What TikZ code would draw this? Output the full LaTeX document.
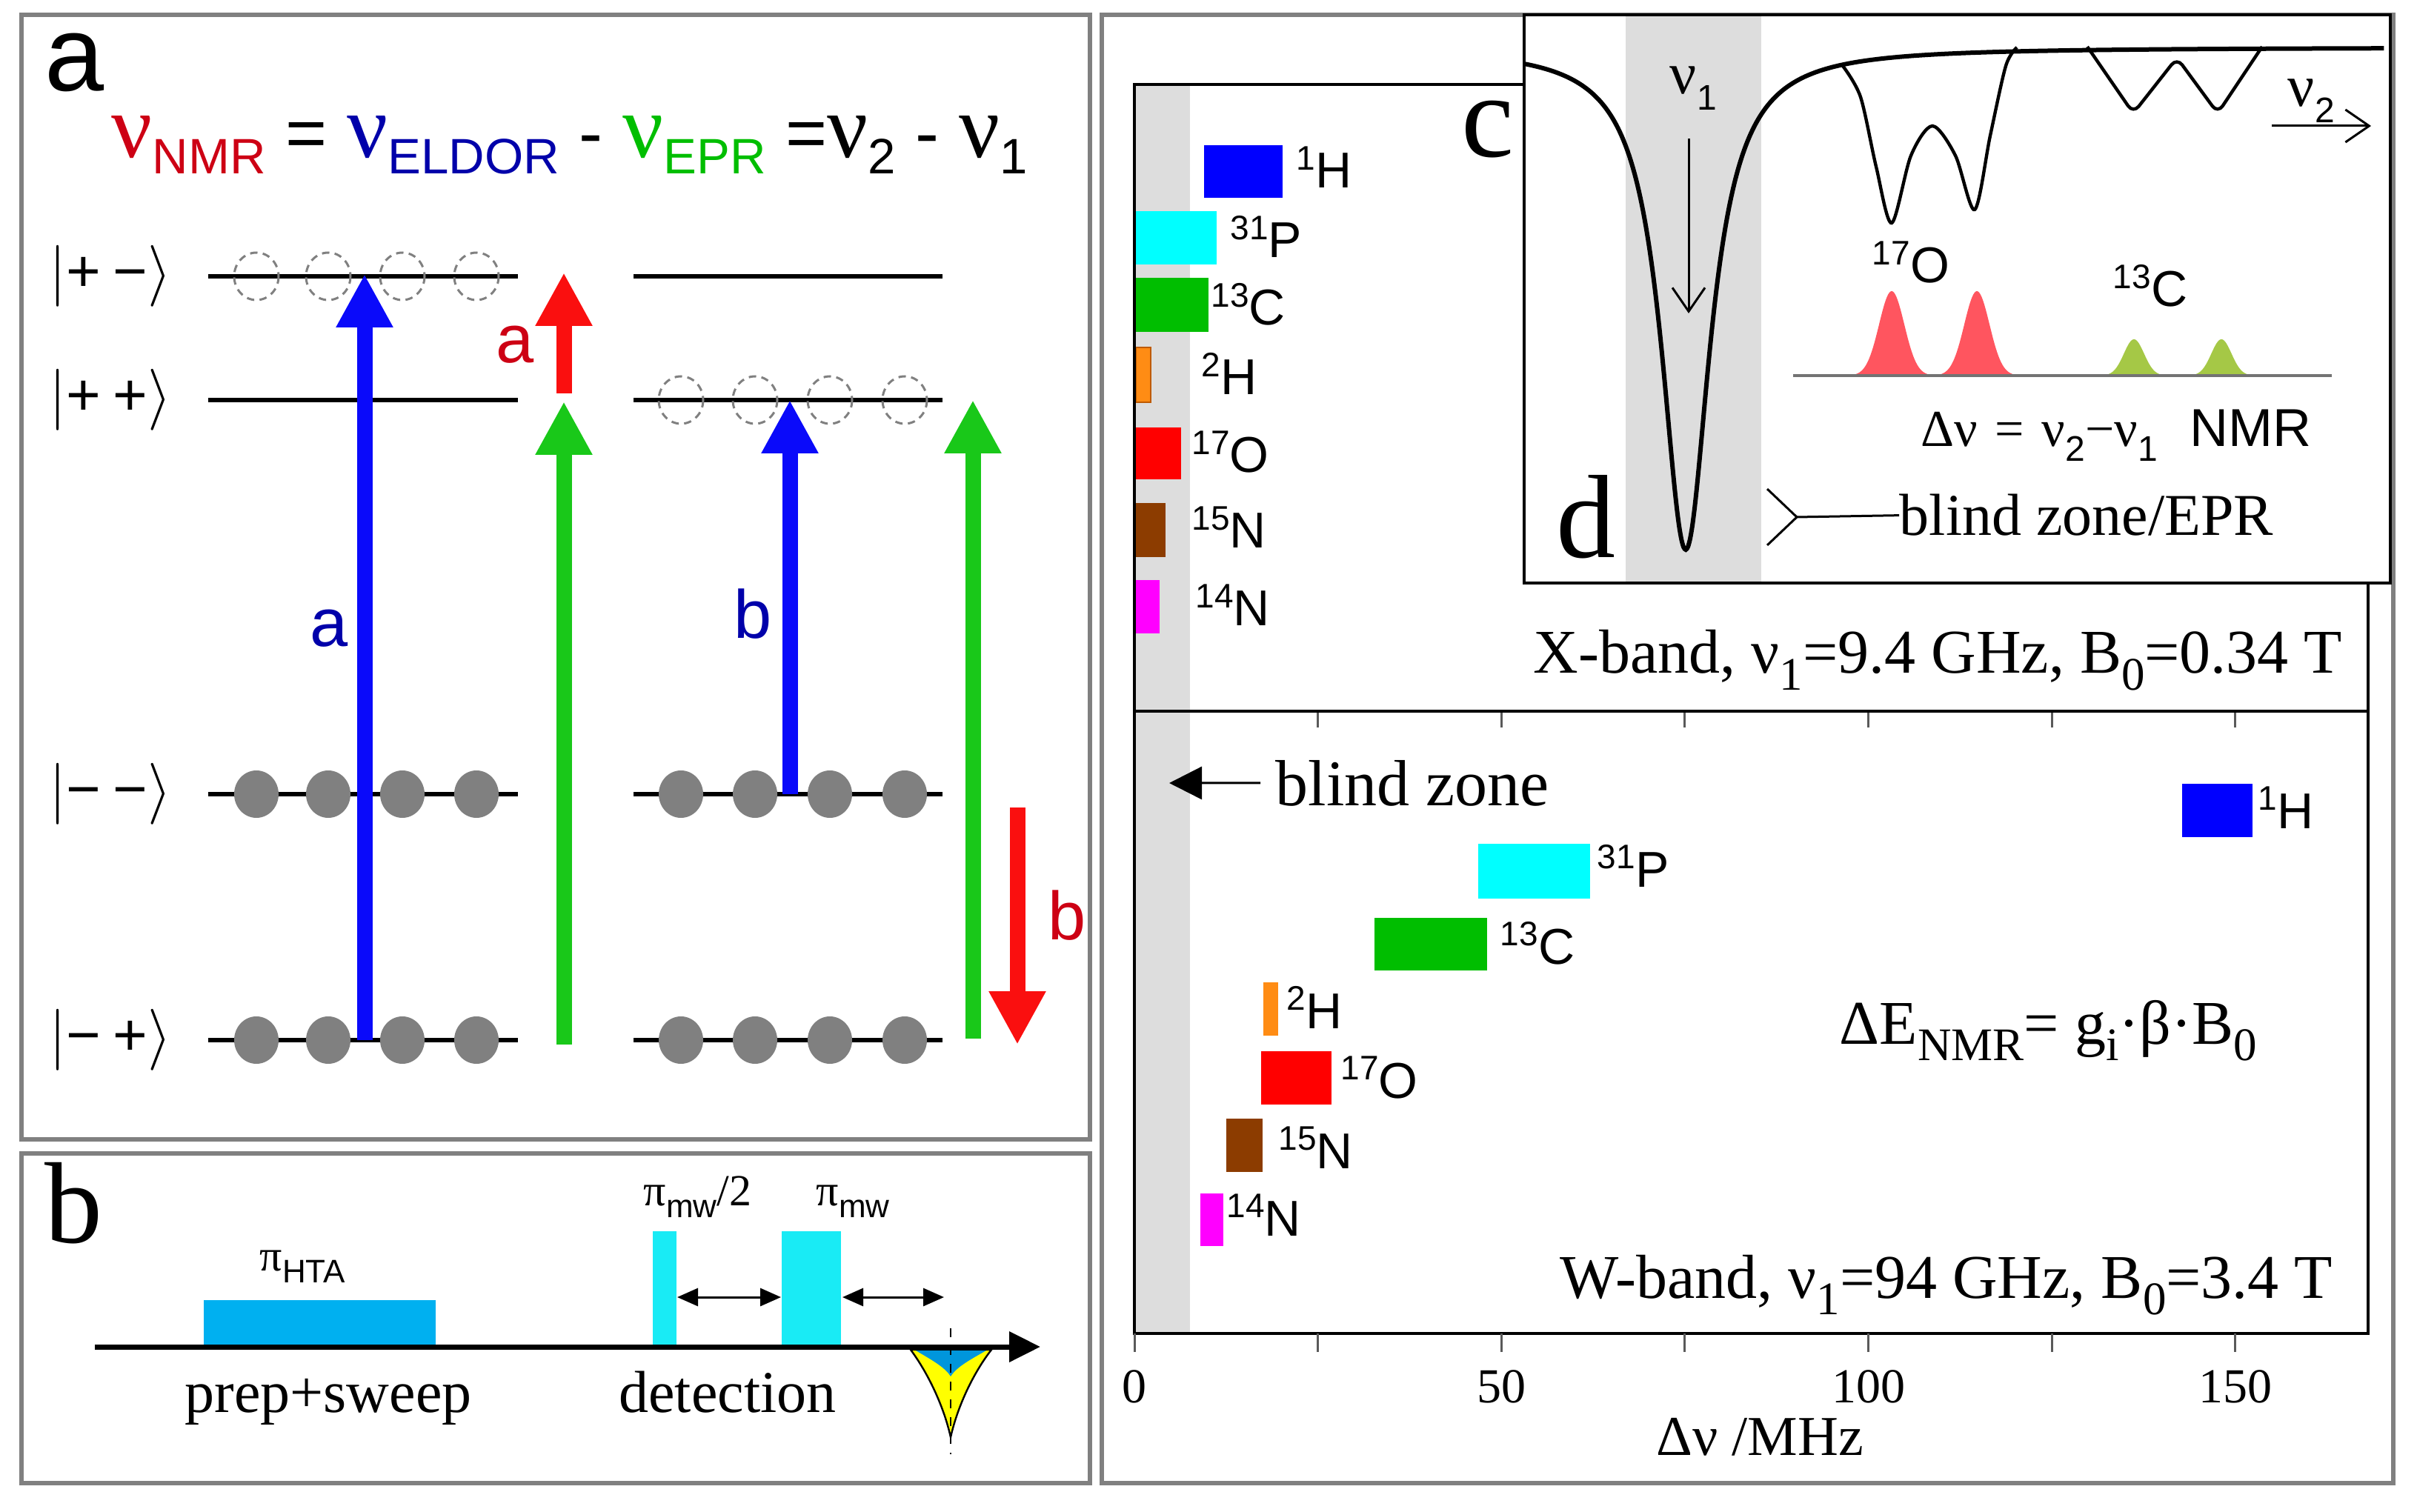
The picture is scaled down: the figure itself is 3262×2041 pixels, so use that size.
\documentclass[tikz,border=0pt]{standalone}
\usepackage{fontspec}
\setmainfont{Liberation Serif}
\setsansfont{Liberation Sans}
\usetikzlibrary{arrows.meta}

\definecolor{framegray}{RGB}{128,128,128}
\definecolor{spingray}{RGB}{128,128,128}
\definecolor{arrblue}{RGB}{10,10,250}
\definecolor{arrred}{RGB}{250,15,15}
\definecolor{arrgreen}{RGB}{25,200,25}
\definecolor{labblue}{RGB}{0,0,170}
\definecolor{labred}{RGB}{205,0,20}
\definecolor{labgreen}{RGB}{0,190,0}
\definecolor{htablue}{RGB}{0,176,240}
\definecolor{mwcyan}{RGB}{25,235,245}
\definecolor{echoyellow}{RGB}{255,255,0}
\definecolor{echoblue}{RGB}{0,150,220}
\definecolor{zonegray}{RGB}{221,221,221}
\definecolor{tickgray}{RGB}{90,90,90}
\definecolor{specgray}{RGB}{115,115,115}
\definecolor{peakred}{RGB}{255,85,95}
\definecolor{peakgreen}{RGB}{165,200,70}
\definecolor{nucH}{RGB}{0,0,255}
\definecolor{nucP}{RGB}{0,255,255}
\definecolor{nucC}{RGB}{0,190,0}
\definecolor{nucD}{RGB}{255,140,20}
\definecolor{nucDedge}{RGB}{190,90,0}
\definecolor{nucO}{RGB}{255,0,0}
\definecolor{nucNf}{RGB}{140,60,0}
\definecolor{nucNt}{RGB}{255,0,255}

\newcommand\iso[2]{\raisebox{6.2pt}{\fontsize{11.5}{12}\selectfont #1}#2}
\newcommand\lowsub[2][0.75]{\raisebox{-0.27em}{\scalebox{#1}{#2}}}
\newcommand\nusub[2]{{\color{#1}\rmfamily\fontsize{30.5}{30}\selectfont ν\raisebox{-5.5pt}{\sffamily\fontsize{16.8}{17}\selectfont #2}}}

\begin{document}
\begin{tikzpicture}[x=0.25pt,y=-0.25pt,
    panel/.style={draw=framegray, line width=1.5pt},
    level/.style={line width=1.5pt},
    spin/.style={fill=spingray},
    hole/.style={draw=spingray, line width=0.75pt, dash pattern=on 2.5pt off 1.8pt},
    trans/.style={line width=5.25pt, -{Triangle[length=18pt,width=18pt]}},
    ket/.style={anchor=west, inner sep=0pt, font=\sffamily\fontsize{20}{20}\selectfont},
    arrlab/.style={anchor=base west, inner sep=0pt, font=\sffamily\fontsize{23}{23}\selectfont},
    pilab/.style={anchor=base west, inner sep=0pt, font=\rmfamily\fontsize{15}{15}\selectfont},
    steplab/.style={anchor=base, inner sep=0pt, font=\rmfamily\fontsize{20}{20}\selectfont},
    delay/.style={line width=0.75pt, {Triangle[length=7pt,width=6pt]}-{Triangle[length=7pt,width=6pt]}},
    nuc/.style={anchor=base west, inner sep=0pt, font=\sffamily\fontsize{17}{17}\selectfont},
    sertext/.style={inner sep=0pt, font=\rmfamily\fontsize{21}{21}\selectfont},
    plotbox/.style={line width=1pt},
    tick/.style={draw=tickgray, line width=0.75pt},
    ticklab/.style={anchor=base, inner sep=0pt, font=\rmfamily\fontsize{16.5}{17}\selectfont},
    barb/.style={line width=0.75pt, -{Straight Barb[length=8pt,width=11pt]}}]
\useasboundingbox (0,0) rectangle (3262,2041);

% ---------- panel a
\draw[panel] (29,20) rectangle (1471,1538);
\node[anchor=base west, inner sep=0pt, font=\sffamily\fontsize{36}{36}\selectfont] (labA) at (60,123) {a};
\node[anchor=base west, inner sep=0pt, font=\sffamily\fontsize{24}{24}\selectfont] (formula) at (150,213)
  {\nusub{labred}{NMR} = \nusub{labblue}{ELDOR} - \nusub{labgreen}{EPR} =\nusub{black}{2} - \nusub{black}{1}};

\foreach \yy in {373,540,1072,1404} {
  \draw[level] (281,\yy) -- (699,\yy);
  \draw[level] (855,\yy) -- (1272,\yy);
}
\node[ket] (ketPM) at (66,373) {$|$+\hspace{4pt}−$\rangle$};
\node[ket] (ketPP) at (66,540) {$|$+\hspace{4pt}+$\rangle$};
\node[ket] (ketMM) at (66,1072) {$|$−\hspace{4pt}−$\rangle$};
\node[ket] (ketMP) at (66,1404) {$|$−\hspace{4pt}+$\rangle$};

\foreach \x in {346,443,543,643} {
  \draw[hole] (\x,373) ellipse[x radius=30, y radius=32];
  \fill[spin] (\x,1072) ellipse[x radius=30, y radius=32];
  \fill[spin] (\x,1404) ellipse[x radius=30, y radius=32];
}
\foreach \x in {919,1019,1120,1221} {
  \draw[hole] (\x,540) ellipse[x radius=30, y radius=32];
  \fill[spin] (\x,1072) ellipse[x radius=30, y radius=32];
  \fill[spin] (\x,1404) ellipse[x radius=30, y radius=32];
}

\coordinate (aBot) at (492,1404);  \coordinate (aTop) at (492,370);
\coordinate (gaBot) at (761,1410); \coordinate (gaTop) at (761,542);
\coordinate (raBot) at (761,531);  \coordinate (raTop) at (761,368);
\coordinate (bBot) at (1066,1072); \coordinate (bTop) at (1066,540);
\coordinate (gbBot) at (1313,1402); \coordinate (gbTop) at (1313,540);
\coordinate (rbTop) at (1373,1090); \coordinate (rbBot) at (1373,1410);
\draw[trans, arrblue] (aBot) -- (aTop);
\draw[trans, arrgreen] (gaBot) -- (gaTop);
\draw[trans, arrred] (raBot) -- (raTop);
\draw[trans, arrblue] (bBot) -- (bTop);
\draw[trans, arrgreen] (gbBot) -- (gbTop);
\draw[trans, arrred] (rbTop) -- (rbBot);
\node[arrlab, text=labblue] (labBa) at (418,873) {a};
\node[arrlab, text=labred] (labRa) at (669,490) {a};
\node[arrlab, text=labblue] (labBb) at (990,862) {b};
\node[arrlab, text=labred] (labRb) at (1414,1268) {b};

% ---------- panel b
\draw[panel] (29,1557) rectangle (1471,2002);
\node[anchor=base west, inner sep=0pt, font=\rmfamily\fontsize{39}{39}\selectfont] (labB) at (60,1677) {b};
\fill[htablue] (275,1755) rectangle (588,1818);
\fill[mwcyan] (881,1662) rectangle (913,1818);
\fill[mwcyan] (1055,1662) rectangle (1135,1818);
\node[pilab] (piHTA) at (350,1715) {π\lowsub[1]{\sffamily\fontsize{11}{11}\selectfont HTA}};
\node[pilab] (piHalf) at (868,1627) {π\lowsub[1]{\sffamily\fontsize{11}{11}\selectfont mw}/2};
\node[pilab] (piFull) at (1101,1627) {π\lowsub[1]{\sffamily\fontsize{11}{11}\selectfont mw}};
\coordinate (d1a) at (914,1751); \coordinate (d1b) at (1054,1751);
\coordinate (d2a) at (1137,1751); \coordinate (d2b) at (1274,1751);
\draw[delay] (d1a) -- (d1b);
\draw[delay] (d2a) -- (d2b);
% echo
\draw[fill=echoyellow, line width=0.6pt] (1229,1822) .. controls (1250,1850) and (1273,1895) .. (1283,1940)
  .. controls (1293,1895) and (1316,1850) .. (1338,1822) -- cycle;
\fill[echoblue] (1236,1823) .. controls (1256,1835) and (1275,1845) .. (1283,1858)
  .. controls (1291,1845) and (1310,1835) .. (1331,1823) -- cycle;
\draw[dashed, line width=0.5pt] (1283,1793) -- (1283,1963);
\coordinate (ax0) at (128,1818); \coordinate (ax1) at (1404,1818);
\draw[line width=1.75pt, -{Triangle[length=10.5pt,width=10pt]}] (ax0) -- (ax1);
\node[steplab] (prep) at (443,1906) {prep+sweep};
\node[steplab] (detect) at (982,1906) {detection};

% ---------- panels c, d
\draw[panel] (1487,20) rectangle (3230,2002);
\fill[zonegray] (1532,114) rectangle (1606,1800);
% X-band bars
\fill[nucH] (1625,196) rectangle (1731,267);
\fill[nucP] (1532,285) rectangle (1642,357);
\fill[nucC] (1532,375) rectangle (1631,448);
\filldraw[fill=nucD, draw=nucDedge, line width=0.5pt] (1533,469) rectangle (1553,543);
\fill[nucO] (1532,577) rectangle (1594,647);
\fill[nucNf] (1532,679) rectangle (1573,752);
\fill[nucNt] (1532,783) rectangle (1565,855);
\node[nuc] (xH) at (1749,254) {\iso{1}{H}};
\node[nuc] (xP) at (1660,348) {\iso{31}{P}};
\node[nuc] (xC) at (1634,439) {\iso{13}{C}};
\node[nuc] (xD) at (1621,533) {\iso{2}{H}};
\node[nuc] (xO) at (1608,638) {\iso{17}{O}};
\node[nuc] (xNf) at (1608,740) {\iso{15}{N}};
\node[nuc] (xNt) at (1613,845) {\iso{14}{N}};
% W-band bars
\fill[nucH] (2945,1058) rectangle (3040,1130);
\fill[nucP] (1995,1139) rectangle (2146,1213);
\fill[nucC] (1855,1239) rectangle (2007,1310);
\fill[nucD] (1705,1326) rectangle (1725,1398);
\fill[nucO] (1702,1419) rectangle (1797,1491);
\fill[nucNf] (1655,1510) rectangle (1704,1582);
\fill[nucNt] (1620,1611) rectangle (1651,1682);
\node[nuc] (wH) at (3047,1118) {\iso{1}{H}};
\node[nuc] (wP) at (2155,1197) {\iso{31}{P}};
\node[nuc] (wC) at (2024,1301) {\iso{13}{C}};
\node[nuc] (wD) at (1736,1388) {\iso{2}{H}};
\node[nuc] (wO) at (1809,1482) {\iso{17}{O}};
\node[nuc] (wNf) at (1725,1577) {\iso{15}{N}};
\node[nuc] (wNt) at (1655,1668) {\iso{14}{N}};
% plot boxes and ticks
\draw[plotbox] (1531,114) rectangle (3196,1800);
\draw[plotbox] (1531,960) -- (3196,960);
\foreach \v in {0,25,...,150} \draw[tick] ({1531+9.906*\v},1800) -- ++(0,25);
\foreach \v in {25,50,...,150} \draw[tick] ({1531+9.906*\v},962) -- ++(0,20);
\foreach \v/\nm in {0/t0,50/t50,100/t100,150/t150}
  \node[ticklab] (\nm) at ({1531+9.906*\v},1893) {\v};
\node[anchor=base, inner sep=0pt, font=\rmfamily\fontsize{19}{19}\selectfont] (xlab) at (2375,1964) {Δν /MHz};
\node[sertext, anchor=base east] (xband) at (3162,909) {X-band, ν\lowsub{1}=9.4 GHz, B\lowsub{0}=0.34 T};
\node[sertext, anchor=base east] (wband) at (3149,1752) {W-band, ν\lowsub{1}=94 GHz, B\lowsub{0}=3.4 T};
\node[sertext, anchor=base west] (dE) at (2482,1409) {ΔE\lowsub{NMR}= g\lowsub{i}·β·B\lowsub{0}};
\node[anchor=base west, inner sep=0pt, font=\rmfamily\fontsize{22}{22}\selectfont] (bz) at (1721,1087) {blind zone};
\coordinate (bzTip) at (1578,1057);
\draw[line width=0.75pt, -{Triangle[length=11pt,width=11pt]}] ([xshift=-5pt]bz.west) -- (bzTip);

% inset
\fill[white] (2057,20) rectangle (3226,787);
\fill[zonegray] (2194,20) rectangle (2377,787);
\draw[line width=1.5pt] plot[domain=-2.18:9.43, samples=400, smooth] ({2275+100*\x},{64+108.48/(\x*\x+0.16)});
\draw[line width=1.1pt] plot[smooth, tension=0.5] coordinates {(2487,89) (2511,131) (2532,225) (2553,301)
  (2579,210) (2608,170) (2639,210) (2665,283) (2686,183) (2707,89) (2722,64)};
\draw[line width=1.1pt, rounded corners=3pt] (2817,63) -- (2879,153) -- (2938,78) -- (2993,153) -- (3053,63);
\foreach \c in {2553,2668}
  \fill[peakred] plot[domain=-55:55, samples=60] ({\c+\x},{507-114*exp(-(\x*\x)/578)}) -- cycle;
\foreach \c in {2880,2998}
  \fill[peakgreen] plot[domain=-45:45, samples=60] ({\c+\x},{507-49*exp(-(\x*\x)/370)}) -- cycle;
\draw[specgray, line width=1pt] (2420,507) -- (3147,507);
\node[nuc] (iO) at (2526,382) {\iso{17}{O}};
\node[nuc] (iC) at (2851,414) {\iso{13}{C}};
\node[anchor=base west, inner sep=0pt, font=\rmfamily\fontsize{17.5}{18}\selectfont] (nmr) at (2592,603)
  {Δν\,\,=\,\,ν\raisebox{-5pt}{\sffamily\fontsize{12}{12}\selectfont 2}−ν\raisebox{-5pt}{\sffamily\fontsize{12}{12}\selectfont 1}\hspace{11pt}{\sffamily\fontsize{18}{18}\selectfont NMR}};
\node[anchor=base west, inner sep=0pt, font=\rmfamily\fontsize{20}{20}\selectfont] (nu1) at (2253,127)
  {ν\raisebox{-5.5pt}{\sffamily\fontsize{12}{12}\selectfont 1}};
\node[anchor=base west, inner sep=0pt, font=\rmfamily\fontsize{20}{20}\selectfont] (nu2) at (3087,144)
  {ν\raisebox{-5.5pt}{\sffamily\fontsize{12}{12}\selectfont 2}};
\coordinate (n1s) at (2279,187); \coordinate (n1e) at (2279,423);
\coordinate (n2s) at (3066,170); \coordinate (n2e) at (3200,170);
\draw[barb] (n1s) -- (n1e);
\draw[barb] (n2s) -- (n2e);
\node[anchor=base west, inner sep=0pt, font=\rmfamily\fontsize{20}{20}\selectfont] (bzEPR) at (2563,723) {blind zone/EPR};
\coordinate (brk) at (2425,698);
\draw[line width=0.75pt] (2385,660) -- (brk) -- (2385,736);
\draw[line width=0.75pt] (brk) -- (bzEPR.west);
\draw[line width=1pt] (2057,20) rectangle (3226,787);
\node[anchor=base west, inner sep=0pt, font=\rmfamily\fontsize{40}{40}\selectfont] (labC) at (1972,212) {c};
\node[anchor=base west, inner sep=0pt, font=\rmfamily\fontsize{40}{40}\selectfont] (labD) at (2100,753) {d};
\end{tikzpicture}
\end{document}
